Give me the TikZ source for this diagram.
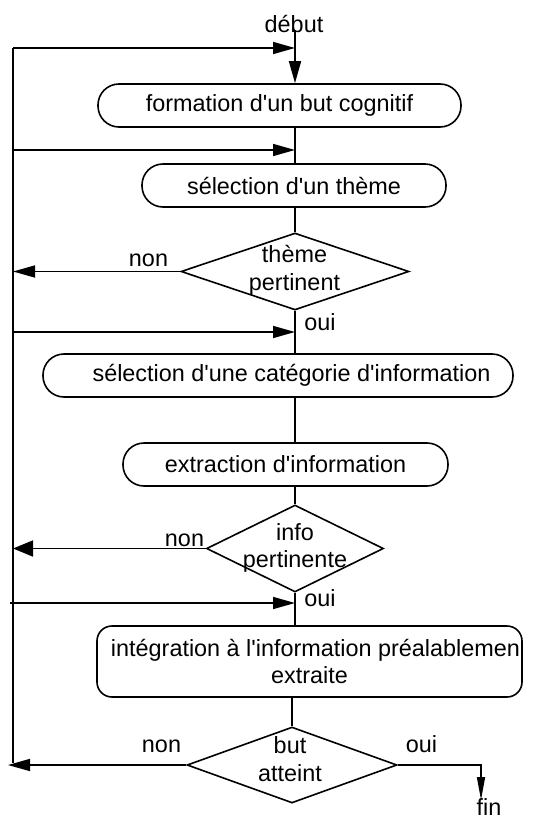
\documentclass[tikz,border=0pt]{standalone}
\usepackage{fontspec}
\setmainfont{Liberation Sans}
\usetikzlibrary{arrows.meta,shapes.geometric}
\newcommand{\sq}{\textquotesingle}
\begin{document}
\begin{tikzpicture}[x=1pt,y=-1pt, line width=1.6pt,
  every node/.style={font=\fontsize{23.4}{27.5}\selectfont},
  proc/.style={draw, rounded corners=21pt, inner sep=0pt, minimum height=43pt},
  dec/.style={draw, diamond, inner sep=0pt},
  txt/.style={inner sep=0pt, align=center},
  lbl/.style={inner sep=0pt, anchor=base},
  arr/.style={-{Triangle[length=22pt,width=12pt]}},
  arrbig/.style={-{Triangle[length=20pt,width=16pt]}},
  arrthin/.style={-{Triangle[length=23pt,width=8pt]}},
]
\useasboundingbox (0,0) rectangle (548,821);
% nodes
\node[lbl] (debut) at (294,33) {début};
\node[proc, minimum width=363pt] (b1) at (279.5,105.5) {formation d\sq un but cognitif};
\node[proc, minimum width=304pt] (b2) at (294,185.5) {sélection d\sq un thème};
\node[dec, minimum width=228pt, minimum height=77pt] (d1) at (295,271.5) {};
\node[txt] (t1) at (294.5,270.5) {thème\\pertinent};
\node[proc, minimum width=470pt] (b3) at (278,375.5) {\hspace*{27pt}sélection d\sq une catégorie d\sq information};
\node[proc, minimum width=325pt] (b4) at (285.5,464.5) {extraction d\sq information};
\node[dec, minimum width=177pt, minimum height=87pt] (d2) at (295,548.5) {};
\node[txt] (t2) at (295,548) {info\\pertinente};
\node[proc, rounded corners=15pt, align=center, minimum width=425pt, minimum height=71pt] (b5) at (309.5,661.5) {\hspace*{12pt}intégration à l\sq information préalablemen\\extraite};
\node[dec, minimum width=210pt, minimum height=76pt] (d3) at (292,765) {};
\node[txt] (t3) at (290,759) {but\\atteint};
% labels
\node[lbl] (n1) at (148.5,266.7) {non};
\node[lbl] (o1) at (320,330) {oui};
\node[lbl] (n2) at (184.5,546) {non};
\node[lbl] (o2) at (320,606.7) {oui};
\node[lbl] (n3) at (161.5,752.7) {non};
\node[lbl] (o3) at (421.5,752.7) {oui};
\node[lbl] (fin) at (489,815) {fin};
% coordinates
\coordinate (D0) at (295,30);
\coordinate (L0) at (13,48);  \coordinate (J0) at (295,48);
\coordinate (L1) at (13,150); \coordinate (J1) at (295,150);
\coordinate (L2) at (13,332); \coordinate (J2) at (295,332);
\coordinate (L3) at (10,603); \coordinate (J3) at (295,603);
\coordinate (LB) at (13,763);
\coordinate (LE) at (8,763);
\coordinate (F) at (481,800);
% main line
\draw[arr] (D0) -- (b1.north -| D0);
\draw (b1.south -| J0) -- (b2.north -| J0);
\draw (b2.south -| J0) -- (d1.north);
\draw (d1.south) -- (b3.north -| d1.south);
\draw (b3.south -| J0) -- (b4.north -| J0);
\draw (b4.south -| J0) -- (d2.north);
\draw (d2.south) -- (b5.north -| d2.south);
\draw (b5.south -| d3.north) -- (d3.north);
% left loop
\draw (L0) -- (LB);
\draw[arr] (L0) -- (J0);
\draw[arr] (L1) -- (J1);
\draw[arr] (L2) -- (J2);
\draw[arr] (L3) -- (J3);
\draw[arr] (d1.west) -- (d1.west -| L0);
\draw[arrbig] (d2.west) -- (d2.west -| L0);
\draw[arr] (d3.west) -- (d3.west -| LE);
% exit
\draw[arrthin] (d3.east) -- (d3.east -| F) -- (F);
\end{tikzpicture}
\end{document}
